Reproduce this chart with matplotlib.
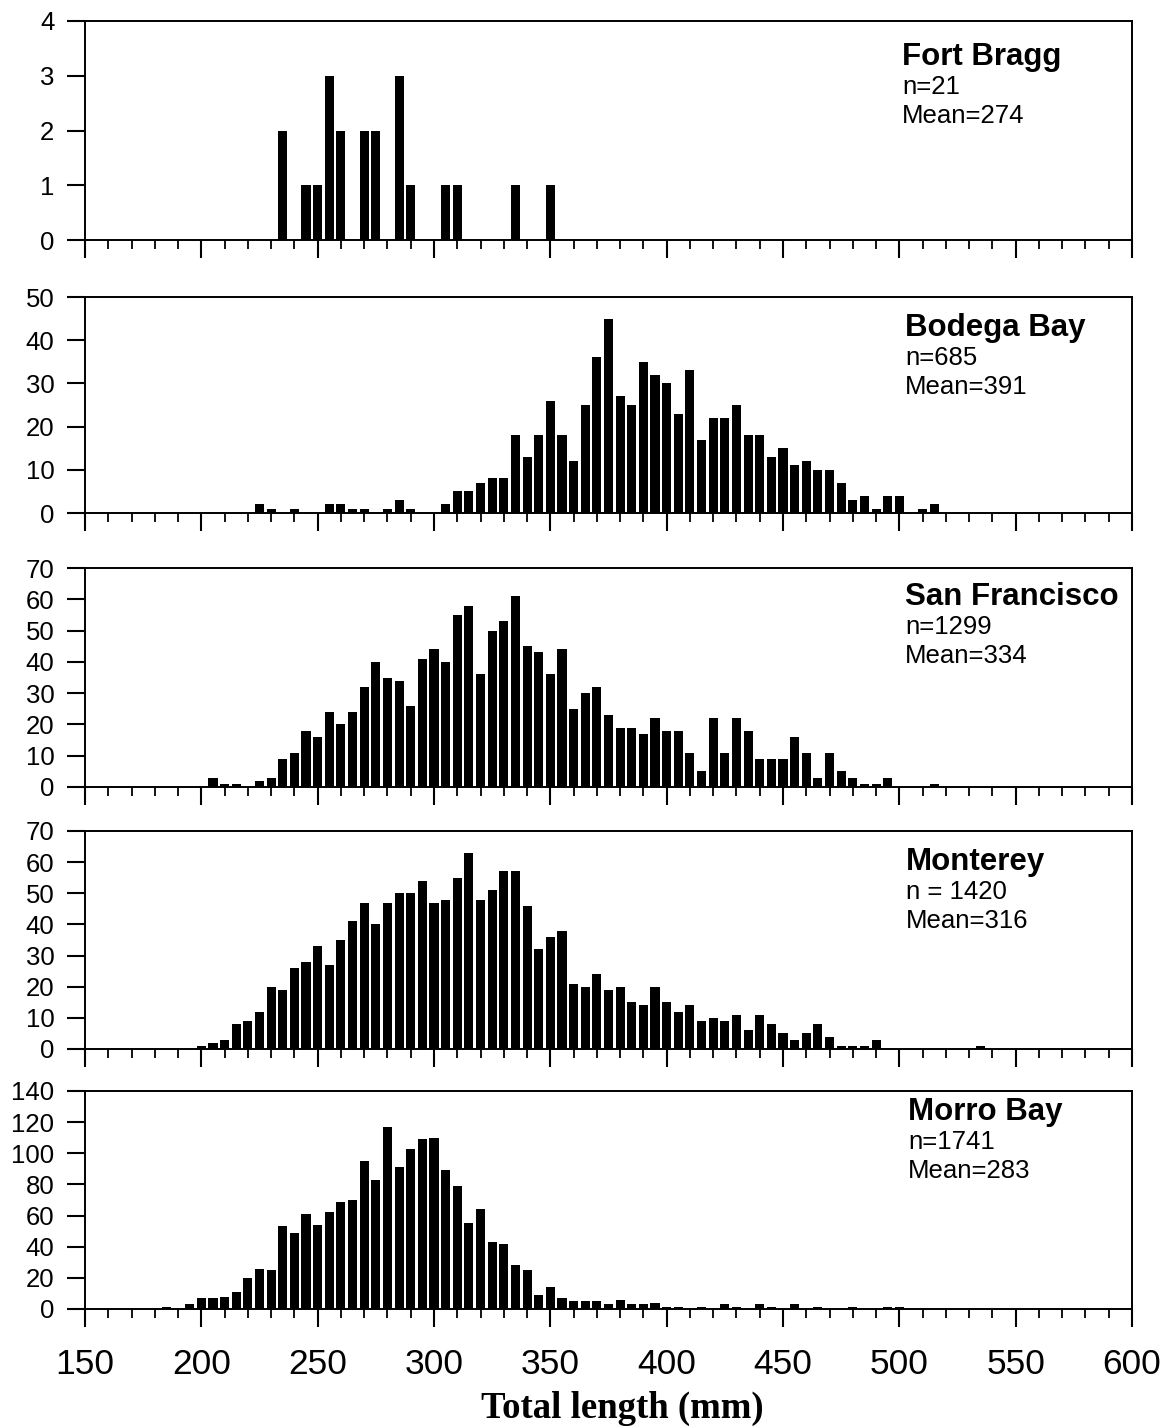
import matplotlib
matplotlib.use('Agg')
import matplotlib.pyplot as plt
from matplotlib.ticker import MultipleLocator

plt.rcParams['font.family'] = ['Liberation Sans', 'DejaVu Sans']

# length classes (mm, 5 mm bins) and fish counts per port
fort_bragg_len = [235, 245, 250, 255, 260, 270, 275, 285, 290, 305, 310, 335, 350]
fort_bragg_cnt = [2, 1, 1, 3, 2, 2, 2, 3, 1, 1, 1, 1, 1]

bodega_len = [225, 230, 240, 255, 260, 265, 270, 280, 285, 290,
              305, 310, 315, 320, 325, 330, 335, 340, 345, 350,
              355, 360, 365, 370, 375, 380, 385, 390, 395, 400,
              405, 410, 415, 420, 425, 430, 435, 440, 445, 450,
              455, 460, 465, 470, 475, 480, 485, 490, 495, 500,
              510, 515]
bodega_cnt = [2, 1, 1, 2, 2, 1, 1, 1, 3, 1,
              2, 5, 5, 7, 8, 8, 18, 13, 18, 26,
              18, 12, 25, 36, 45, 27, 25, 35, 32, 30,
              23, 33, 17, 22, 22, 25, 18, 18, 13, 15,
              11, 12, 10, 10, 7, 3, 4, 1, 4, 4,
              1, 2]

sanfran_len = [205, 210, 215, 225, 230, 235, 240, 245, 250, 255,
               260, 265, 270, 275, 280, 285, 290, 295, 300, 305,
               310, 315, 320, 325, 330, 335, 340, 345, 350, 355,
               360, 365, 370, 375, 380, 385, 390, 395, 400, 405,
               410, 415, 420, 425, 430, 435, 440, 445, 450, 455,
               460, 465, 470, 475, 480, 485, 490, 495, 515]
sanfran_cnt = [3, 1, 1, 2, 3, 9, 11, 18, 16, 24,
               20, 24, 32, 40, 35, 34, 26, 41, 44, 40,
               55, 58, 36, 50, 53, 61, 45, 43, 36, 44,
               25, 30, 32, 23, 19, 19, 17, 22, 18, 18,
               11, 5, 22, 11, 22, 18, 9, 9, 9, 16,
               11, 3, 11, 5, 3, 1, 1, 3, 1]

monterey_len = [200, 205, 210, 215, 220, 225, 230, 235, 240, 245,
                250, 255, 260, 265, 270, 275, 280, 285, 290, 295,
                300, 305, 310, 315, 320, 325, 330, 335, 340, 345,
                350, 355, 360, 365, 370, 375, 380, 385, 390, 395,
                400, 405, 410, 415, 420, 425, 430, 435, 440, 445,
                450, 455, 460, 465, 470, 475, 480, 485, 490, 535]
monterey_cnt = [1, 2, 3, 8, 9, 12, 20, 19, 26, 28,
                33, 27, 35, 41, 47, 40, 47, 50, 50, 54,
                47, 48, 55, 63, 48, 51, 57, 57, 46, 32,
                36, 38, 21, 20, 24, 19, 20, 15, 14, 20,
                15, 12, 14, 9, 10, 9, 11, 6, 11, 8,
                5, 3, 5, 8, 4, 1, 1, 1, 3, 1]

morro_len = [185, 195, 200, 205, 210, 215, 220, 225, 230, 235,
             240, 245, 250, 255, 260, 265, 270, 275, 280, 285,
             290, 295, 300, 305, 310, 315, 320, 325, 330, 335,
             340, 345, 350, 355, 360, 365, 370, 375, 380, 385,
             390, 395, 400, 405, 415, 425, 430, 440, 445, 455,
             465, 480, 495, 500]
morro_cnt = [1, 3, 7, 7, 8, 11, 20, 26, 25, 53,
             49, 61, 54, 62, 69, 70, 95, 83, 117, 91,
             103, 109, 110, 89, 79, 55, 64, 43, 42, 28,
             25, 9, 14, 7, 5, 5, 5, 3, 6, 3,
             3, 4, 1, 1, 1, 3, 1, 3, 1, 3,
             1, 1, 1, 1]

ports = ['Fort Bragg', 'Bodega Bay', 'San Francisco', 'Monterey', 'Morro Bay']
n_labels = ['n=21', 'n=685', 'n=1299', 'n = 1420', 'n=1741']
mean_labels = ['Mean=274', 'Mean=391', 'Mean=334', 'Mean=316', 'Mean=283']

W, H = 1176, 1427


def fx(px):
    return px / W


def fy(py):
    return 1 - py / H


def main():
    fig = plt.figure(figsize=(W / 100, H / 100), dpi=100)

    series = [(fort_bragg_len, fort_bragg_cnt), (bodega_len, bodega_cnt),
              (sanfran_len, sanfran_cnt), (monterey_len, monterey_cnt),
              (morro_len, morro_cnt)]
    # (top px, bottom px, ymax, ytick step, label x px, label y px)
    rows = [(21, 240, 4, 1, 902, 57),
            (297, 513, 50, 10, 905, 328),
            (568, 787, 70, 10, 905, 597),
            (831, 1049, 70, 10, 906, 862),
            (1091, 1309, 140, 20, 908, 1112)]
    left, right = 85, 1132

    for i, ((lens, cnts), (top, bot, ymax, step, tx, ty)) in enumerate(zip(series, rows)):
        ax = fig.add_axes([fx(left), fy(bot), fx(right - left), (bot - top) / H])
        ax.bar(lens, cnts, width=3.9, color='black', align='center')
        ax.set_xlim(150, 600)
        ax.set_ylim(0, ymax)
        ax.yaxis.set_major_locator(MultipleLocator(step))
        ax.xaxis.set_major_locator(MultipleLocator(50))
        ax.xaxis.set_minor_locator(MultipleLocator(10))
        for sp in ax.spines.values():
            sp.set_linewidth(1.4)
        ax.tick_params(axis='y', which='major', direction='out', length=13,
                       width=1.5, labelsize=18.5, pad=9)
        ax.tick_params(axis='x', which='major', direction='out', length=13,
                       width=1.5, labelsize=25.5, pad=15)
        ax.tick_params(axis='x', which='minor', direction='out', length=6.5,
                       width=1.3)
        if i < len(series) - 1:
            ax.tick_params(axis='x', which='both', labelbottom=False)

        fig.text(fx(tx), fy(ty), ports[i], fontsize=22.5, fontweight='bold',
                 ha='left', va='center')
        fig.text(fx(tx), fy(ty + 30), n_labels[i], fontsize=18.5,
                 ha='left', va='center')
        fig.text(fx(tx), fy(ty + 59), mean_labels[i], fontsize=18.5,
                 ha='left', va='center')

    fig.text(fx(622), fy(1408), 'Total length (mm)', fontsize=26.5,
             fontweight='bold', family=['Liberation Serif', 'DejaVu Serif'],
             ha='center', va='center')

    fig.savefig('out.png', dpi=100)


if __name__ == "__main__":
    main()
